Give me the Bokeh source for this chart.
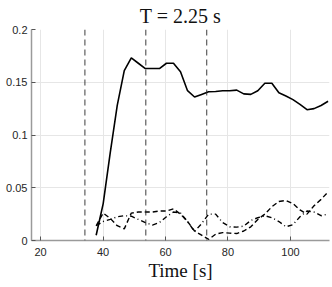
from bokeh.plotting import figure
from bokeh.models import Span, FixedTicker
from bokeh.embed import file_html
from bokeh.resources import INLINE

# time samples [s]
time_s = [37.8, 40.05, 42.3, 44.55, 46.8, 49.05, 51.3, 53.55, 55.8, 58.05,
          60.3, 62.55, 64.8, 67.05, 69.3, 71.55, 73.8, 76.05, 78.3, 80.55,
          82.8, 85.05, 87.3, 89.55, 91.8, 94.05, 96.3, 98.55, 100.8, 103.05,
          105.3, 107.55, 109.8, 112.05]

solid_vals = [0.005, 0.035, 0.083, 0.128, 0.161, 0.173, 0.168, 0.163, 0.163, 0.163,
              0.168, 0.168, 0.160, 0.142, 0.136, 0.1385, 0.141, 0.1413, 0.142, 0.142,
              0.1425, 0.139, 0.1385, 0.142, 0.149, 0.149, 0.140, 0.137, 0.1335, 0.129,
              0.124, 0.125, 0.128, 0.132]

dashed_vals = [0.014, 0.026, 0.021, 0.014, 0.011, 0.026, 0.027, 0.027, 0.027, 0.028,
               0.028, 0.030, 0.025, 0.018, 0.009, 0.005, 0.001, 0.006, 0.0075, 0.007,
               0.0066, 0.009, 0.013, 0.020, 0.025, 0.032, 0.037, 0.038, 0.035, 0.029,
               0.025, 0.033, 0.039, 0.046]

dashdot_vals = [0.014, 0.018, 0.020, 0.0225, 0.0235, 0.023, 0.020, 0.017, 0.0146, 0.017,
                0.0225, 0.027, 0.026, 0.018, 0.0085, 0.016, 0.025, 0.025, 0.017, 0.013,
                0.0127, 0.0136, 0.019, 0.0216, 0.0235, 0.0216, 0.018, 0.013, 0.015, 0.0225,
                0.028, 0.027, 0.0235, 0.025]

event_times = [34.2, 53.7, 73.2]

x_ticks = [20, 40, 60, 80, 100]
y_ticks = [0, 0.05, 0.1, 0.15, 0.2]
y_tick_labels = {0: "0", 0.05: "0.05", 0.1: "0.1", 0.15: "0.15", 0.2: "0.2"}

p = figure(width=332, height=287, x_range=(17.1, 112.5), y_range=(0, 0.2),
           output_backend="svg", toolbar_location=None,
           min_border_left=31, min_border_right=3, min_border_top=27, min_border_bottom=47)
p.outline_line_color = None
p.background_fill_color = "white"
p.border_fill_color = "white"

p.title.text = "T = 2.25 s"
p.title.align = "center"
p.title.text_font = "Liberation Serif"
p.title.text_font_style = "normal"
p.title.text_font_size = "20px"
p.title.text_color = "#111111"
p.title.standoff = 5

for ax in (p.xaxis[0], p.yaxis[0]):
    ax.axis_line_color = "#9a9a9a"
    ax.axis_line_width = 1.5
    ax.major_tick_in = 4
    ax.major_tick_out = 0
    ax.major_tick_line_color = "#555555"
    ax.minor_tick_line_color = None
    ax.major_label_text_font = "Liberation Sans"
    ax.major_label_text_font_size = "11px"
    ax.major_label_text_color = "#262626"

p.xaxis.ticker = FixedTicker(ticks=x_ticks)
p.yaxis.ticker = FixedTicker(ticks=y_ticks)
p.yaxis.major_label_overrides = y_tick_labels
p.xaxis.major_label_standoff = 7
p.yaxis.major_label_standoff = 4

p.xaxis.axis_label = "Time [s]"
p.xaxis.axis_label_text_font = "Liberation Serif"
p.xaxis.axis_label_text_font_style = "normal"
p.xaxis.axis_label_text_font_size = "19px"
p.xaxis.axis_label_text_color = "#111111"
p.xaxis.axis_label_standoff = 1

p.xgrid.ticker = FixedTicker(ticks=x_ticks)
p.ygrid.ticker = FixedTicker(ticks=y_ticks)
p.grid.grid_line_color = "#e6e6e6"
p.grid.grid_line_width = 1

for t in event_times:
    p.add_layout(Span(location=t, dimension="height", line_color="#262626",
                      line_width=0.9, line_dash="6 4"))

p.line(time_s, solid_vals, line_color="black", line_width=1.6)
p.line(time_s, dashed_vals, line_color="black", line_width=1.4, line_dash="5 3")
p.line(time_s, dashdot_vals, line_color="black", line_width=1.4, line_dash="5 3 1 3")

open("out.html", "w").write(file_html(p, INLINE))
